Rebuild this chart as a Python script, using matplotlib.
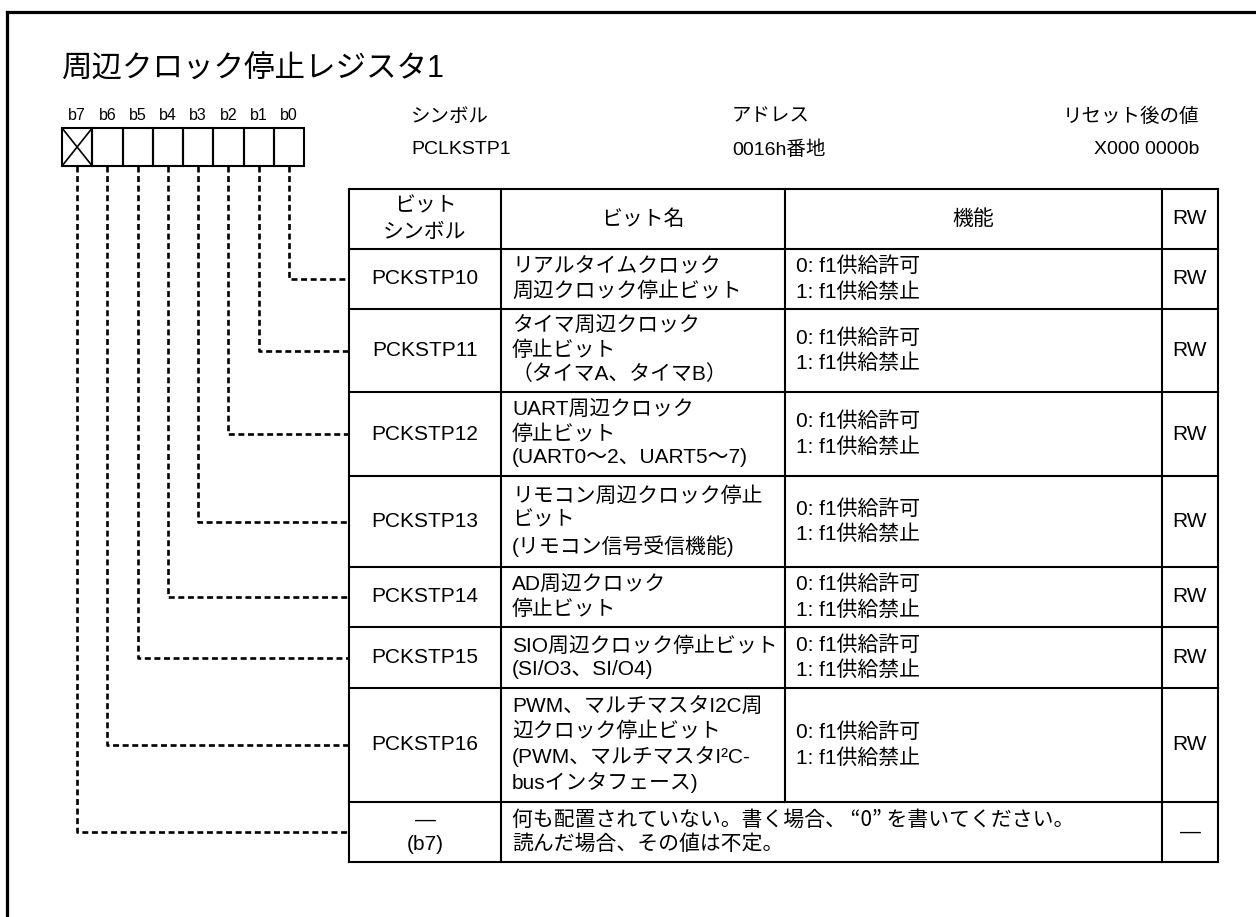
import matplotlib
matplotlib.use("Agg")
import matplotlib.pyplot as plt
from matplotlib.patches import Rectangle

plt.rcParams['font.family'] = ['Liberation Sans', 'Noto Sans CJK JP']
plt.rcParams['lines.scale_dashes'] = False

# --- content ---
title = "周辺クロック停止レジスタ1"
bit_labels = ["b7", "b6", "b5", "b4", "b3", "b2", "b1", "b0"]
info_heads = ["シンボル", "アドレス", "リセット後の値"]
info_vals = ["PCLKSTP1", "0016h番地", "X000 0000b"]

col_heads = ["ビット\nシンボル", "ビット名", "機能", "RW"]
bit_symbols = ["PCKSTP10", "PCKSTP11", "PCKSTP12", "PCKSTP13",
               "PCKSTP14", "PCKSTP15", "PCKSTP16", "—\n(b7)"]
bit_names = [
    "リアルタイムクロック\n周辺クロック停止ビット",
    "タイマ周辺クロック\n停止ビット\n（タイマA、タイマB）",
    "UART周辺クロック\n停止ビット\n(UART0～2、UART5～7)",
    "リモコン周辺クロック停止\nビット\n(リモコン信号受信機能)",
    "AD周辺クロック\n停止ビット",
    "SIO周辺クロック停止ビット\n(SI/O3、SI/O4)",
    "PWM、マルチマスタI2C周\n辺クロック停止ビット\n(PWM、マルチマスタI²C-\nbusインタフェース)",
    "何も配置されていない。書く場合、 “0” を書いてください。\n読んだ場合、その値は不定。",
]
functions = ["0: f1供給許可\n1: f1供給禁止"] * 7 + [""]
rw = ["RW"] * 7 + ["—"]

# --- layout (pixels) ---
W, H = 1256, 917
row_y = [189, 249, 309, 392, 476, 567, 627, 688, 802, 862]
col_x = [349, 501, 785, 1162, 1218]
box_x0, box_w, box_y0, box_y1 = 62, 30.25, 128, 166
lw_tab = 1.5
fs = 15

fig = plt.figure(figsize=(W / 100, H / 100), dpi=100)
ax = fig.add_axes([0, 0, 1, 1])
ax.set_xlim(0, W)
ax.set_ylim(H, 0)
ax.axis('off')

# frame (top + left only, image is cropped)
ax.plot([7, W], [12, 12], color='black', lw=2.3, solid_capstyle='projecting')
ax.plot([7, 7], [12, H], color='black', lw=2.3, solid_capstyle='projecting')

ax.text(62, 70, title, fontsize=22, va='center', ha='left')

# register bit boxes
for i, lab in enumerate(bit_labels):
    x = box_x0 + i * box_w
    ax.add_patch(Rectangle((x, box_y0), box_w, box_y1 - box_y0, fill=False,
                           edgecolor='black', lw=lw_tab))
    ax.text(x + box_w / 2, 116, lab, fontsize=11.5, ha='center', va='center')
ax.plot([box_x0, box_x0 + box_w], [box_y0, box_y1], color='black', lw=1.2)
ax.plot([box_x0, box_x0 + box_w], [box_y1, box_y0], color='black', lw=1.2)

# symbol / address / reset value
info_x = [(411, 'left'), (732, 'left'), (1199, 'right')]
for (x, ha), h, v in zip(info_x, info_heads, info_vals):
    ax.text(x, 117, h, fontsize=14, ha=ha, va='center')
    ax.text(x, 150, v, fontsize=14, ha=ha, va='center')

# table grid
ax.plot([col_x[0], col_x[-1]], [row_y[0], row_y[0]], color='black', lw=lw_tab)
for y in row_y[1:]:
    ax.plot([col_x[0], col_x[-1]], [y, y], color='black', lw=lw_tab)
for j, x in enumerate(col_x):
    y_end = row_y[-2] if j == 2 else row_y[-1]
    ax.plot([x, x], [row_y[0], y_end], color='black', lw=lw_tab)

# header row
yc = (row_y[0] + row_y[1]) / 2
for j, h in enumerate(col_heads):
    ax.text((col_x[j] + col_x[j + 1]) / 2, yc, h, fontsize=fs, ha='center',
            va='center', linespacing=1.5)

# body rows
for r in range(len(bit_symbols)):
    yc = (row_y[r + 1] + row_y[r + 2]) / 2
    ax.text((col_x[0] + col_x[1]) / 2, yc, bit_symbols[r], fontsize=fs,
            ha='center', va='center', linespacing=1.35)
    if r == 7:
        fam, ls = ['Noto Sans CJK JP', 'Liberation Sans'], 1.15
    else:
        fam, ls = None, 1.3
    ax.text(col_x[1] + 11, yc, bit_names[r], fontsize=fs, ha='left',
            va='center', linespacing=ls, family=fam)
    if functions[r]:
        ax.text(col_x[2] + 11, yc, functions[r], fontsize=fs, ha='left',
                va='center', linespacing=1.35)
    ax.text((col_x[3] + col_x[4]) / 2, yc, rw[r], fontsize=fs, ha='center',
            va='center')

# dashed leader lines from each bit to its table row
for i in range(8):
    bit = 7 - i
    xc = box_x0 + i * box_w + box_w / 2
    yc = (row_y[bit + 1] + row_y[bit + 2]) / 2
    ax.plot([xc, xc, col_x[0]], [box_y1, yc, yc], color='black', lw=1.9,
            dashes=(4.3, 2.6))

fig.savefig("out.png", dpi=100)
